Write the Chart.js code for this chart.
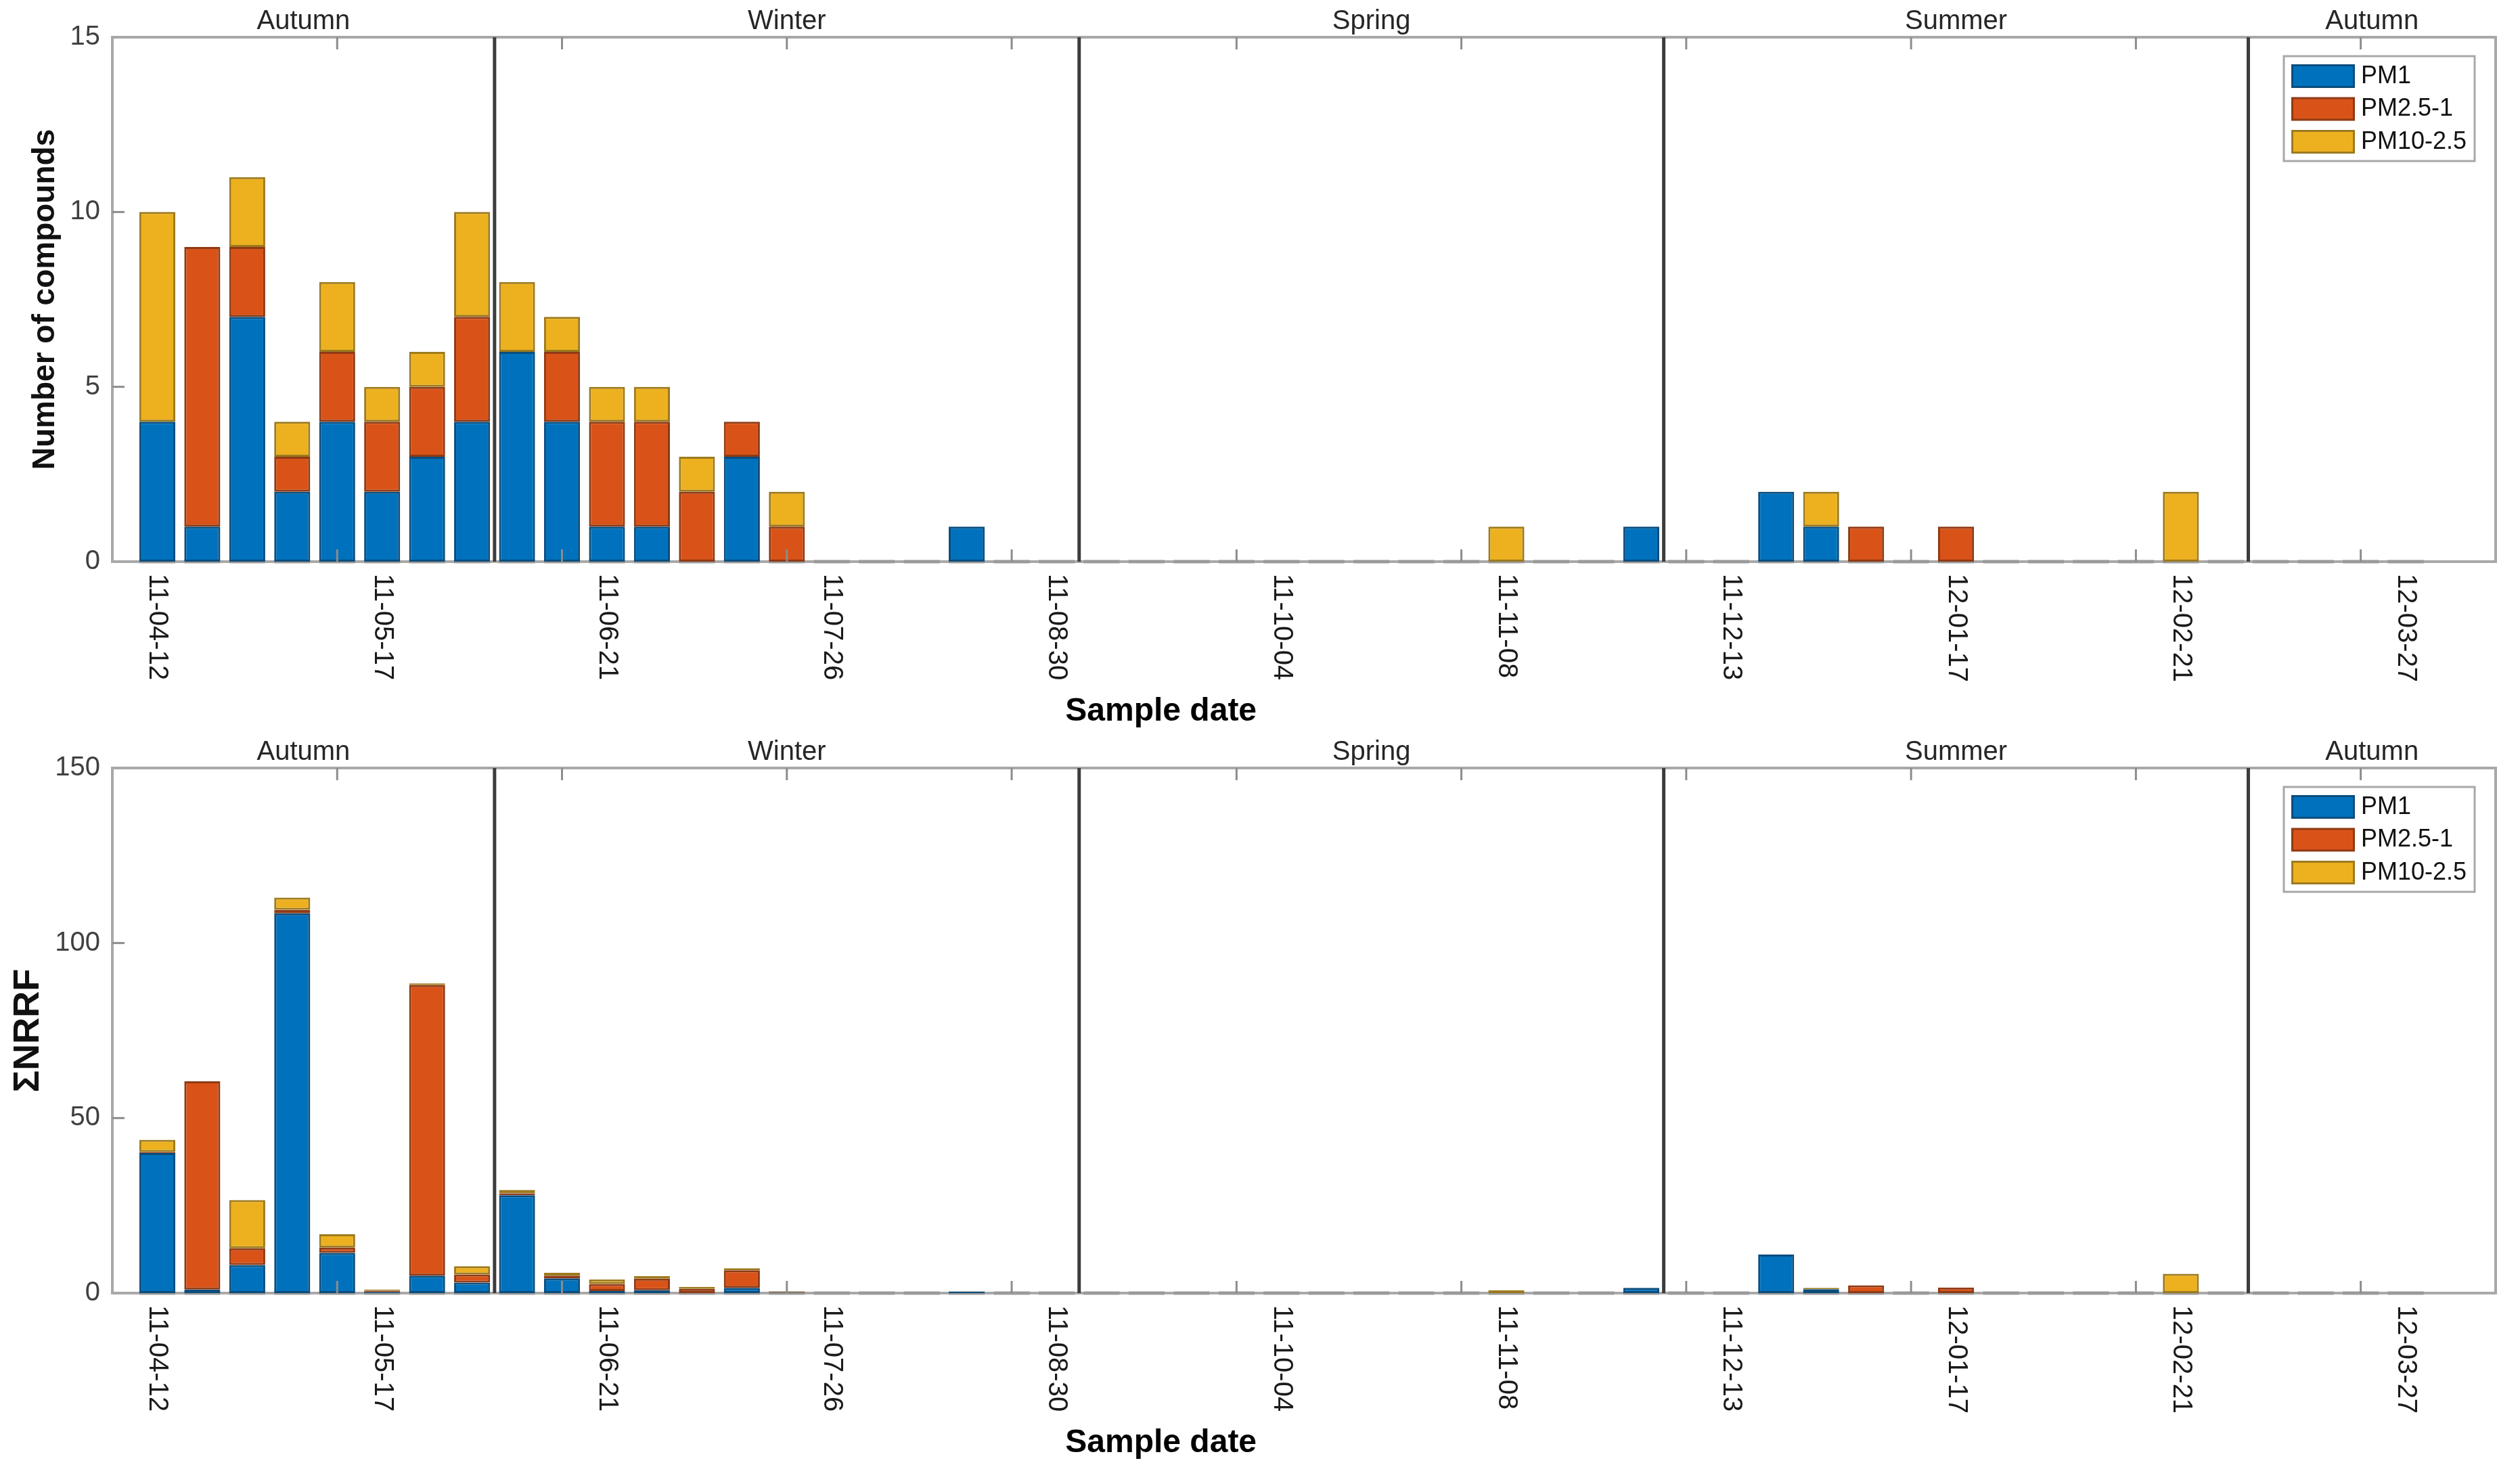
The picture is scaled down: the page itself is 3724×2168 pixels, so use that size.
<!DOCTYPE html>
<html><head><meta charset="utf-8">
<script src="https://cdn.jsdelivr.net/npm/chart.js@4.4.1/dist/chart.umd.min.js"></script>
<style>
html,body{margin:0;padding:0;background:#fff;width:3724px;height:2168px;overflow:hidden}
.box{position:absolute;left:0;width:3724px;height:1084px}
</style></head><body>
<div class="box" style="top:0"><canvas id="c1"></canvas></div>
<div class="box" style="top:1084px"><canvas id="c2"></canvas></div>
<script>
// ---- data ----
const weeks = [0,1,2,3,4,5,6,7,8,9,10,11,12,13,14,15,16,17,18,19,20,21,22,23,24,25,26,27,28,29,30,31,32,33,34,35,36,37,38,39,40,41,42,43,44,45,46,47,48,49,50];
const seriesNames = ['PM1','PM2.5-1','PM10-2.5'];
const seriesColors = ['#0072BD','#D95319','#EDB120'];
const seriesEdges  = ['#0b4d7d','#8f3a14','#9c7a1e'];

const countPM1  = [4,1,7,2,4,2,3,4,6,4,1,1,0,3,0, 0,0,0,1,0, 0,0,0,0,0, 0,0,0,0,0, 0,0,0,1,0, 0,2,1,0,0, 0,0,0,0,0, 0,0,0,0,0, 0];
const countPM25 = [0,8,2,1,2,2,2,3,0,2,3,3,2,1,1, 0,0,0,0,0, 0,0,0,0,0, 0,0,0,0,0, 0,0,0,0,0, 0,0,0,1,0, 1,0,0,0,0, 0,0,0,0,0, 0];
const countPM10 = [6,0,2,1,2,1,1,3,2,1,1,1,1,0,1, 0,0,0,0,0, 0,0,0,0,0, 0,0,0,0,0, 1,0,0,0,0, 0,0,1,0,0, 0,0,0,0,0, 2,0,0,0,0, 0];

const nrrfPM1  = [40,1,8,108.5,11.5,0.3,5,3,28,4.2,0.6,0.8,0,1.5,0.1, 0,0,0,0.4,0, 0,0,0,0,0, 0,0,0,0,0, 0,0,0,1.5,0, 0,11,1.1,0,0, 0,0,0,0,0, 0,0,0,0,0, 0];
const nrrfPM25 = [0.3,59.5,4.8,1,1.5,0.4,83,2.3,0.5,0.8,2,3.3,1.2,5,0.2, 0,0,0,0,0, 0,0,0,0,0, 0,0,0,0,0, 0,0,0,0,0, 0,0,0,2.2,0, 1.6,0,0,0,0, 0,0,0,0,0, 0];
const nrrfPM10 = [3.5,0,13.8,3.5,3.8,0.3,0.5,2.4,1,0.8,1.3,0.8,0.6,0.6,0.2, 0,0,0,0,0, 0,0,0,0,0, 0,0,0,0,0, 0.8,0,0,0,0, 0,0,0.4,0,0, 0,0,0,0,0, 5.5,0,0,0,0, 0];

const tickWeeks  = [0,5,10,15,20,25,30,35,40,45,50];
const tickLabels = ['11-04-12','11-05-17','11-06-21','11-07-26','11-08-30','11-10-04','11-11-08','11-12-13','12-01-17','12-02-21','12-03-27'];
const tickMarks  = [4,9,14,19,24,29,34,39,44,49];
const seasonNames  = ['Autumn','Winter','Spring','Summer','Autumn'];
const seasonBounds = [7.5,20.5,33.5,46.5];
const xTitle = 'Sample date';

const FAM = '"Liberation Sans", Arial, Helvetica, sans-serif';

const decor = {
  id:'decor',
  beforeDatasetsDraw(chart){
    const {ctx, chartArea:a, scales:{x}} = chart;
    ctx.save();
    ctx.strokeStyle='#a8a8a8'; ctx.lineWidth=4;
    ctx.strokeRect(a.left,a.top,a.right-a.left,a.bottom-a.top);
    // zero-height bars drawn as baseline dashes
    ctx.strokeStyle='#9a9a9a'; ctx.lineWidth=5;
    const half=(x.getPixelForValue(1)-x.getPixelForValue(0))*0.4;
    weeks.forEach(w=>{ const px=x.getPixelForValue(w); ctx.beginPath(); ctx.moveTo(px-half,a.bottom); ctx.lineTo(px+half,a.bottom); ctx.stroke(); });
    ctx.restore();
  },
  afterDatasetsDraw(chart){
    const {ctx, chartArea:a, scales:{x,y}} = chart;
    const line=(x1,y1,x2,y2)=>{ctx.beginPath();ctx.moveTo(x1,y1);ctx.lineTo(x2,y2);ctx.stroke();};
    ctx.save();
    // season separators
    ctx.strokeStyle='#3c3c3c'; ctx.lineWidth=5;
    seasonBounds.forEach(b=>{const px=x.getPixelForValue(b); line(px,a.top,px,a.bottom);});
    // inward ticks
    ctx.strokeStyle='#8c8c8c'; ctx.lineWidth=3;
    y.ticks.forEach(t=>{ if(t.value<=y.min||t.value>=y.max) return; const py=y.getPixelForValue(t.value); line(a.left,py,a.left+18,py); });
    tickMarks.forEach(w=>{ const px=x.getPixelForValue(w); line(px,a.bottom,px,a.bottom-18); line(px,a.top,px,a.top+18); });
    // season labels
    const edges=[x.min,...seasonBounds,x.max];
    ctx.fillStyle='#262626'; ctx.font='40px '+FAM; ctx.textAlign='center'; ctx.textBaseline='alphabetic';
    seasonNames.forEach((s,i)=>{ const c=(edges[i]+edges[i+1])/2; ctx.fillText(s, x.getPixelForValue(c), a.top-12); });
    // x tick labels (rotated clockwise)
    ctx.fillStyle='#1a1a1a'; ctx.font='40px '+FAM; ctx.textAlign='left'; ctx.textBaseline='middle';
    tickWeeks.forEach((w,i)=>{ const px=x.getPixelForValue(w); ctx.save(); ctx.translate(px,a.bottom+18); ctx.rotate(Math.PI/2); ctx.fillText(tickLabels[i],0,0); ctx.restore(); });
    // x title
    ctx.fillStyle='#000'; ctx.font='bold 48px '+FAM; ctx.textAlign='center'; ctx.textBaseline='middle';
    ctx.fillText(xTitle, a.left+0.44*(a.right-a.left), a.bottom+222);
    // legend
    const bw=282,bh=155,bx=a.right-31-bw,by=a.top+28;
    ctx.fillStyle='#fff'; ctx.fillRect(bx,by,bw,bh);
    ctx.strokeStyle='#a8a8a8'; ctx.lineWidth=3; ctx.strokeRect(bx,by,bw,bh);
    ctx.font='36px '+FAM; ctx.textAlign='left'; ctx.textBaseline='middle';
    chart.data.datasets.forEach((d,i)=>{
      const cy=by+29+i*48.5;
      ctx.fillStyle=d.borderColor; ctx.fillRect(bx+11,cy-17,94,35);
      ctx.fillStyle=d.backgroundColor; ctx.fillRect(bx+14,cy-14,88,29);
      ctx.fillStyle='#111'; ctx.fillText(d.label,bx+114,cy+1);
    });
    ctx.restore();
  }
};

function makeChart(id, series, yMax, yStep, yTitle, titleSize, titlePad, padTop, xAxisH){
  const datasets = series.map((vals,i)=>({
    label: seriesNames[i],
    data: weeks.map((w,k)=>({x:w, y: vals[k] ? vals[k] : null})),
    backgroundColor: seriesColors[i],
    borderColor: seriesEdges[i],
    borderWidth: 3,
    borderSkipped: false,
    barPercentage: 0.8,
    categoryPercentage: 1.0,
    stack: 's'
  }));
  return new Chart(document.getElementById(id), {
    type:'bar',
    data:{datasets},
    plugins:[decor],
    options:{
      responsive:true, maintainAspectRatio:false, animation:false, devicePixelRatio:1,
      layout:{padding:{top:padTop,right:36,left:0,bottom:0}},
      plugins:{legend:{display:false}, tooltip:{enabled:false}},
      scales:{
        x:{type:'linear', min:-1, max:52, offset:false, stacked:true, grid:{display:false,drawTicks:false,offset:false}, border:{display:false}, ticks:{display:false}, afterFit(s){s.height=xAxisH;}},
        y:{min:0, max:yMax, stacked:true,
           ticks:{stepSize:yStep, font:{size:40,family:FAM}, color:'#404040', padding:18},
           grid:{display:false,drawTicks:false}, border:{display:false},
           title:{display:true, text:yTitle, font:{size:titleSize, weight:'bold', family:FAM}, color:'#111', padding:{top:titlePad,bottom:0}},
           afterFit(s){s.width=166;}}
      }
    }
  });
}

makeChart('c1',[countPM1,countPM25,countPM10],15,5,'Number of compounds',46,40,55,254);
makeChart('c2',[nrrfPM1,nrrfPM25,nrrfPM10],150,50,'ΣNRRF',54,10,51,257);
</script>
</body></html>
